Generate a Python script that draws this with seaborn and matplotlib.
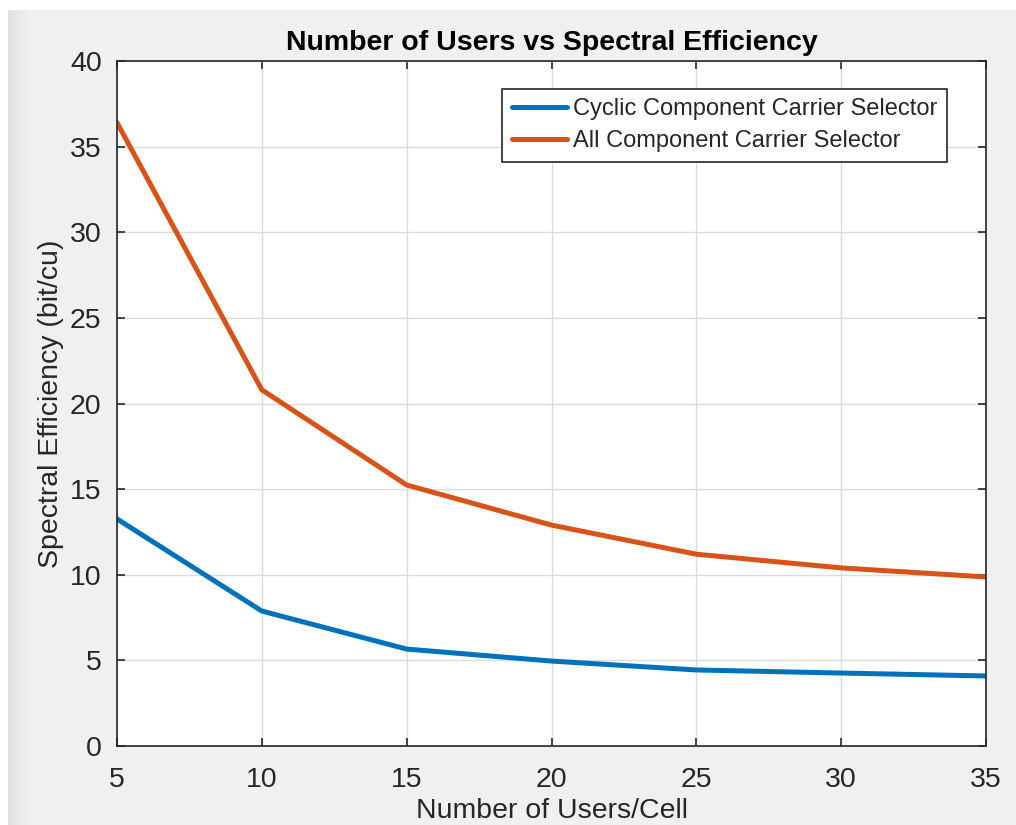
import numpy as np
import pandas as pd
import matplotlib
matplotlib.use("Agg")
import matplotlib.pyplot as plt
import seaborn as sns
from matplotlib.patches import Rectangle

users = [5, 10, 15, 20, 25, 30, 35]
cyclic_se = [13.26, 7.88, 5.66, 4.96, 4.44, 4.26, 4.09]
all_se = [36.4, 20.8, 15.24, 12.9, 11.2, 10.4, 9.87]
series_names = ["Cyclic Component Carrier Selector", "All Component Carrier Selector"]
colors = ["#0072BD", "#D95319"]

df = pd.DataFrame({
    "users": users * 2,
    "se": cyclic_se + all_se,
    "series": [series_names[0]] * len(users) + [series_names[1]] * len(users),
})

sns.set_theme(style="white")
plt.rcParams['font.family'] = ['Liberation Sans', 'DejaVu Sans']

W, H = 1016, 825
fig = plt.figure(figsize=(W / 100, H / 100), dpi=100, facecolor="white")

# grey window background
fig.patches.append(Rectangle((8 / W, 0), 1 - 8 / W, 1 - 10 / H, transform=fig.transFigure,
                             facecolor="#f0f0f0", edgecolor="none", zorder=-10))
gax = fig.add_axes([8 / W, 0, 22 / W, 1 - 10 / H], zorder=-5)
grad = np.linspace(0.88, 0.94, 50)[None, :]
gax.imshow(grad, aspect="auto", cmap="gray", vmin=0, vmax=1, extent=[0, 1, 0, 1])
gax.axis("off")

ax = fig.add_axes([117 / W, 1 - 746 / H, (986 - 117) / W, (746 - 61) / H])
ax.set_facecolor("white")

sns.lineplot(data=df, x="users", y="se", hue="series", palette=colors,
             hue_order=series_names, linewidth=3.6, ax=ax, legend=True)

ax.set_xlim(5, 35)
ax.set_ylim(0, 40)
ax.set_xticks(range(5, 36, 5))
ax.set_yticks(range(0, 41, 5))
ax.grid(True, color="#dcdcdc", linewidth=1)
ax.set_axisbelow(True)
for s in ax.spines.values():
    s.set_color("#262626")
    s.set_linewidth(1.2)
ax.tick_params(axis="both", direction="in", length=6, width=1.2, color="#262626",
               labelsize=20.5, labelcolor="#262626", top=True, right=True,
               bottom=True, left=True)
ax.tick_params(axis="x", pad=15)
ax.tick_params(axis="y", pad=11)

ax.set_title("Number of Users vs Spectral Efficiency", fontsize=20.5, fontweight="bold",
             color="black", pad=8)
ax.set_xlabel("Number of Users/Cell", fontsize=20.5, color="#262626", labelpad=4)
ax.set_ylabel("Spectral Efficiency (bit/cu)", fontsize=20.5, color="#262626", labelpad=4)

leg = ax.legend(loc="upper right", bbox_to_anchor=(947 / W, 1 - 89 / H),
                bbox_transform=fig.transFigure, fontsize=17, frameon=True,
                fancybox=False, edgecolor="#262626", framealpha=1,
                handlelength=2.35, borderpad=0.4, labelspacing=0.42, handletextpad=0.25,
                borderaxespad=0)
leg.get_frame().set_linewidth(1.2)
for t in leg.get_texts():
    t.set_color("#262626")

fig.savefig("out.png", dpi=100, facecolor=fig.get_facecolor())
